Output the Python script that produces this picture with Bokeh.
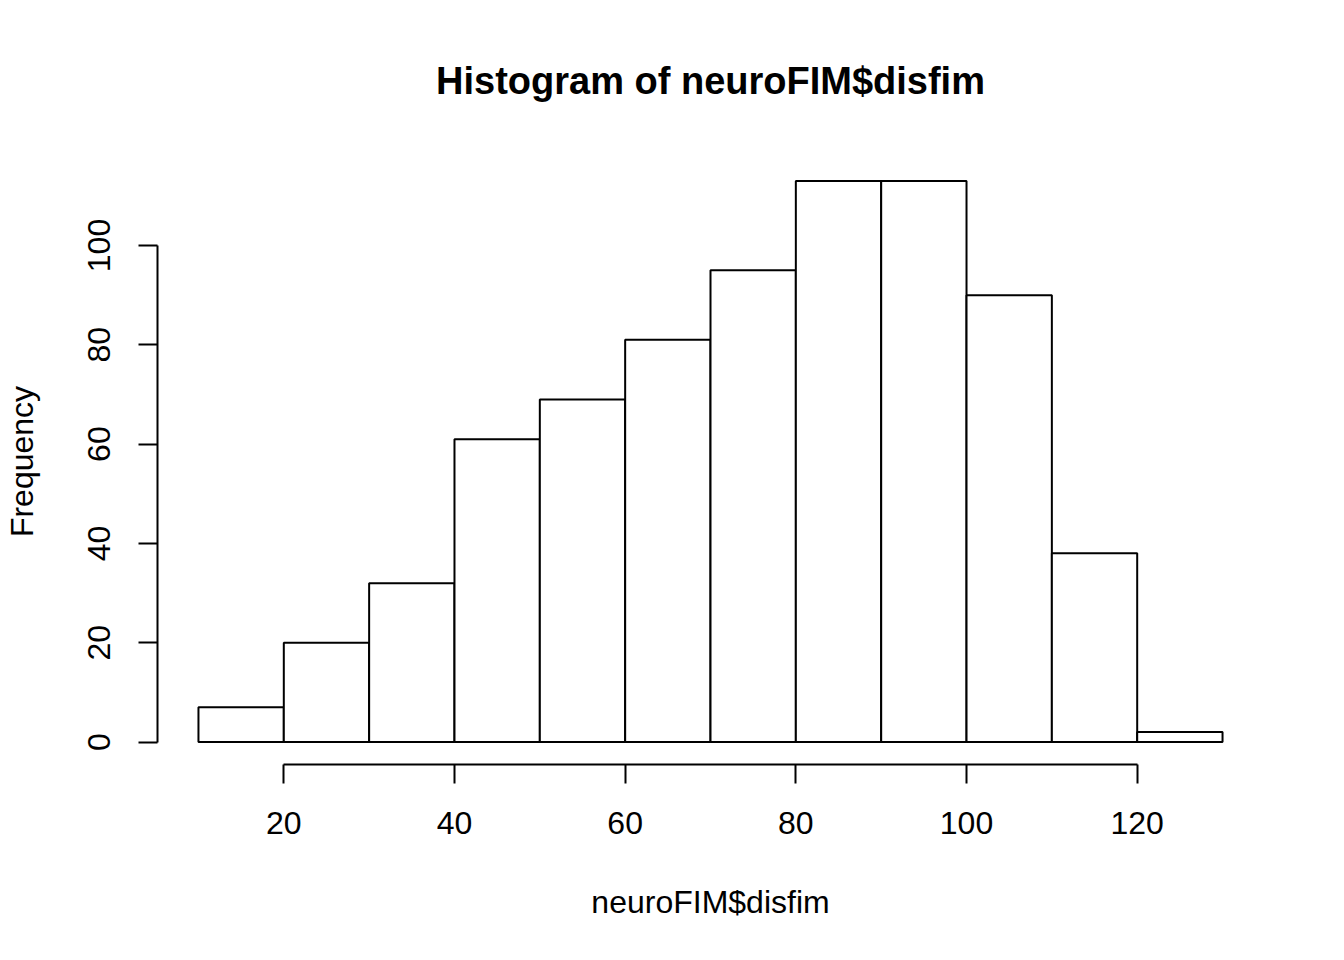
from bokeh.plotting import figure
from bokeh.models import Range1d, FixedTicker, Title
from bokeh.embed import file_html
from bokeh.resources import INLINE

# Data
bin_edges = [10, 20, 30, 40, 50, 60, 70, 80, 90, 100, 110, 120, 130]
counts = [7, 20, 32, 61, 69, 81, 95, 113, 113, 90, 38, 2]
x_ticks = [20, 40, 60, 80, 100, 120]
y_ticks = [0, 20, 40, 60, 80, 100]
title_text = "Histogram of neuroFIM$disfim"
x_label = "neuroFIM$disfim"
y_label = "Frequency"

FONT = "Liberation Sans"

lefts = bin_edges[:-1]
rights = bin_edges[1:]

xmin, xmax = min(bin_edges), max(bin_edges)
ymin, ymax = 0, max(counts)
xpad = 0.04 * (xmax - xmin)
ypad = 0.04 * (ymax - ymin)

p = figure(
    width=1328, height=944,
    output_backend="svg", toolbar_location=None,
    x_range=Range1d(xmin - xpad, xmax + xpad),
    y_range=Range1d(ymin - ypad, ymax + ypad),
    min_border_left=157, min_border_right=65,
    min_border_top=157, min_border_bottom=180,
    title=None,
)
p.add_layout(Title(text=title_text, align="center", text_font=FONT,
                   text_font_size="38px", text_font_style="bold",
                   text_color="black", standoff=114), "above")

p.outline_line_color = None
p.xgrid.visible = False
p.ygrid.visible = False
p.background_fill_color = "white"
p.border_fill_color = "white"

p.quad(left=lefts, right=rights, bottom=0, top=counts,
       fill_color="white", line_color="black", line_width=2)

# X axis
xa = p.xaxis[0]
xa.ticker = FixedTicker(ticks=x_ticks)
xa.bounds = (min(x_ticks), max(x_ticks))
xa.axis_label = x_label
xa.minor_tick_line_color = None
xa.major_tick_in = 0
xa.major_tick_out = 19
xa.major_tick_line_width = 2
xa.axis_line_width = 2
xa.major_label_text_font = FONT
xa.major_label_text_font_size = "32px"
xa.major_label_text_color = "black"
xa.major_label_standoff = 28
xa.axis_label_text_font = FONT
xa.axis_label_text_font_size = "32px"
xa.axis_label_text_font_style = "normal"
xa.axis_label_text_color = "black"
xa.axis_label_standoff = 47

# Y axis
ya = p.yaxis[0]
ya.ticker = FixedTicker(ticks=y_ticks)
ya.bounds = (min(y_ticks), max(y_ticks))
ya.axis_label = y_label
ya.minor_tick_line_color = None
ya.major_tick_in = 0
ya.major_tick_out = 19
ya.major_tick_line_width = 2
ya.axis_line_width = 2
ya.major_label_orientation = "vertical"
ya.major_label_text_font = FONT
ya.major_label_text_font_size = "32px"
ya.major_label_text_color = "black"
ya.major_label_standoff = 28
ya.axis_label_text_font = FONT
ya.axis_label_text_font_size = "32px"
ya.axis_label_text_font_style = "normal"
ya.axis_label_text_color = "black"
ya.axis_label_standoff = 46

open("out.html", "w").write(file_html(p, INLINE))
